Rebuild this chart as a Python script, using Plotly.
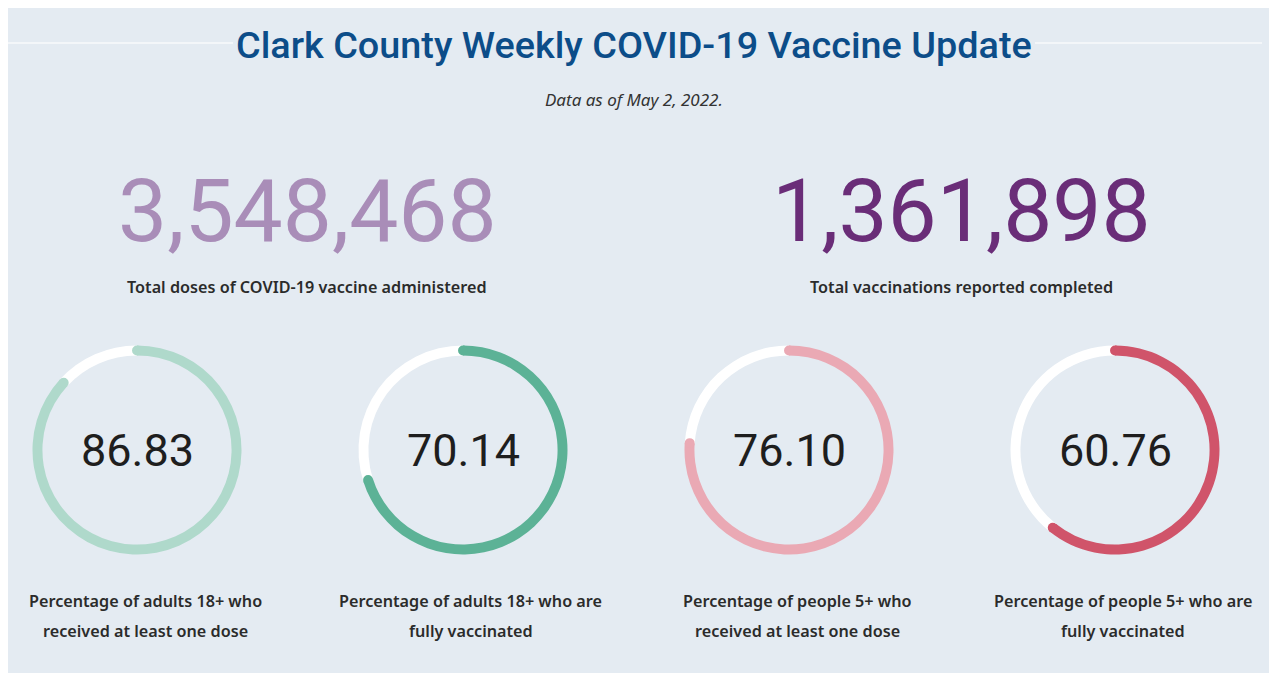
import math
import plotly.graph_objects as go

W, H = 1277, 673
OFF = 8  # browser body margin offset (positions below are in screenshot pixels)

title_text = "Clark County Weekly COVID-19 Vaccine Update"
subtitle_text = "Data as of May 2, 2022."

big_values = [3548468, 1361898]
big_labels = ["Total doses of COVID-19 vaccine administered",
              "Total vaccinations reported completed"]
big_colors = ["#a98db8", "#6a2d78"]
big_cx = [307, 961]

gauge_values = [86.83, 70.14, 76.10, 60.76]
gauge_labels = [
    ["Percentage of adults 18+ who", "received at least one dose"],
    ["Percentage of adults 18+ who are", "fully vaccinated"],
    ["Percentage of people 5+ who", "received at least one dose"],
    ["Percentage of people 5+ who are", "fully vaccinated"],
]
gauge_colors = ["#afd9cb", "#5cb296", "#eaa9b4", "#d0546a"]
gauge_cx = [137, 463, 789, 1115]
gauge_cy = 450
gauge_r = 104.5
HOLE = 0.905

LABEL_FONT = "Noto Sans"
LABEL_SIZE = 16.2


def px(x):
    return (x - OFF) / W


def py(y):
    return 1 - (y - OFF) / H


fig = go.Figure()

shapes = [
    dict(type="line", xref="paper", yref="paper",
         x0=px(8), x1=px(233), y0=py(43), y1=py(43),
         line=dict(color="#f3f6f9", width=2), layer="below"),
    dict(type="line", xref="paper", yref="paper",
         x0=px(1035), x1=px(1262), y0=py(43), y1=py(43),
         line=dict(color="#f3f6f9", width=2), layer="below"),
]

thick = gauge_r * (1 - HOLE)
r_mid = gauge_r - thick / 2
for v, col, cx in zip(gauge_values, gauge_colors, gauge_cx):
    fig.add_trace(go.Pie(
        values=[v, 100 - v],
        marker=dict(colors=[col, "#ffffff"], line=dict(width=0)),
        hole=HOLE,
        sort=False,
        direction="clockwise",
        rotation=0,
        textinfo="none",
        hoverinfo="skip",
        showlegend=False,
        domain=dict(x=[px(cx - gauge_r), px(cx + gauge_r)],
                    y=[py(gauge_cy + gauge_r), py(gauge_cy - gauge_r)]),
    ))
    # rounded caps at both ends of the coloured arc
    for frac in (0.0, v / 100.0):
        ang = 2 * math.pi * frac
        ex = cx + r_mid * math.sin(ang)
        ey = gauge_cy - r_mid * math.cos(ang)
        cr = thick / 2
        shapes.append(dict(type="circle", xref="paper", yref="paper",
                           x0=px(ex - cr), x1=px(ex + cr),
                           y0=py(ey + cr), y1=py(ey - cr),
                           fillcolor=col, line=dict(width=0), layer="above"))

annotations = []
annotations.append(dict(
    text=title_text, x=px(634), y=py(45), xref="paper", yref="paper",
    showarrow=False, xanchor="center", yanchor="middle",
    font=dict(family="Roboto", size=37.8, color="#0c4d89", weight=500)))
annotations.append(dict(
    text="<i>" + subtitle_text + "</i>", x=px(634), y=py(100), xref="paper", yref="paper",
    showarrow=False, xanchor="center", yanchor="middle",
    font=dict(family="Noto Sans", size=17, color="#333333")))

for v, lab, col, cx in zip(big_values, big_labels, big_colors, big_cx):
    annotations.append(dict(
        text=f"{v:,}", x=px(cx), y=py(211), xref="paper", yref="paper",
        showarrow=False, xanchor="center", yanchor="middle",
        font=dict(family="Roboto", size=87.5, color=col)))
    annotations.append(dict(
        text=lab, x=px(cx), y=py(287), xref="paper", yref="paper",
        showarrow=False, xanchor="center", yanchor="middle",
        font=dict(family=LABEL_FONT, size=LABEL_SIZE, color="#2b2b2b", weight=600)))

for v, lines, cx in zip(gauge_values, gauge_labels, gauge_cx):
    annotations.append(dict(
        text=f"{v:.2f}", x=px(cx), y=py(gauge_cy), xref="paper", yref="paper",
        showarrow=False, xanchor="center", yanchor="middle",
        font=dict(family="Roboto", size=45, color="#1e1e1e")))
    for i, line in enumerate(lines):
        annotations.append(dict(
            text=line, x=px(cx + 8), y=py(601 + 30 * i), xref="paper", yref="paper",
            showarrow=False, xanchor="center", yanchor="middle",
            font=dict(family=LABEL_FONT, size=LABEL_SIZE, color="#2b2b2b", weight=600)))

fig.update_layout(
    width=W, height=H,
    margin=dict(l=0, r=0, t=0, b=0),
    paper_bgcolor="#e4ebf2",
    plot_bgcolor="rgba(0,0,0,0)",
    annotations=annotations,
    shapes=shapes,
    showlegend=False,
)

fig.write_html("out.html")
